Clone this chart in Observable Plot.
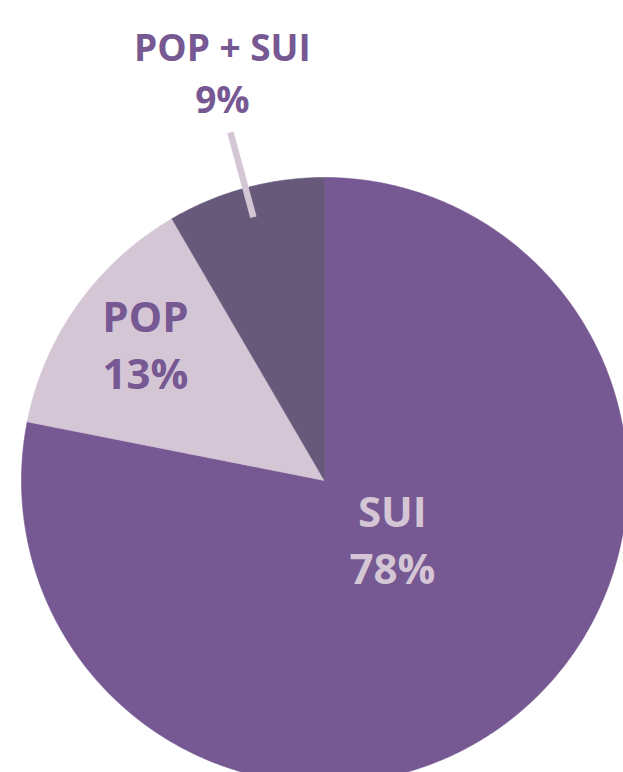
<!DOCTYPE html>
<html><head><meta charset="utf-8">
<script src="https://cdn.jsdelivr.net/npm/d3@7"></script>
<script src="https://cdn.jsdelivr.net/npm/@observablehq/plot@0.6"></script>
<style>html,body{margin:0;padding:0;background:#fff;overflow:hidden}#chart svg{display:block}</style>
</head><body><div id="chart"></div>
<script>
// ---- data ----
const categories = ["SUI", "POP", "POP + SUI"];
const shares = [78.1, 13.5, 8.4];            // slice sizes
const pctLabels = ["78%", "13%", "9%"];       // printed labels
// ---- style ----
const sliceColors = ["#765892", "#d5c6d6", "#67597a"];
const labelColors = ["#d5c6d6", "#765892", "#765892"];
// ---- label layout (unit-radius coordinates) ----
const labelX = [0.224, -0.591, -0.337];
const labelY = [-0.188, 0.455, 1.354];

const W = 623, H = 772, CX = 324, CY = 480, R = 303;

const arcs = d3.pie().sort(null).value(d => d)(shares);
const polar = (a, r) => [r * Math.sin(a), r * Math.cos(a)];

const slices = arcs.map((a, i) => {
  const pts = [[0, 0]];
  const n = Math.max(8, Math.ceil((a.endAngle - a.startAngle) / (Math.PI / 360)));
  for (let k = 0; k <= n; k++) pts.push(polar(a.startAngle + (a.endAngle - a.startAngle) * k / n, 1));
  pts.push([0, 0]);
  return {i, pts};
});

const labels = categories.map((c, i) => ({i, text: c + "\n" + pctLabels[i], x: labelX[i], y: labelY[i]}));
const mid3 = (arcs[2].startAngle + arcs[2].endAngle) / 2;
const leader = [{p1: polar(mid3, 0.90), p2: polar(mid3, 1.19)}];

const chart = Plot.plot({
  width: W, height: H,
  margin: 0,
  x: {domain: [-CX / R, (W - CX) / R], axis: null},
  y: {domain: [-(H - CY) / R, CY / R], axis: null},
  marks: [
    ...slices.map(s => Plot.line(s.pts, {x: d => d[0], y: d => d[1], fill: sliceColors[s.i], stroke: sliceColors[s.i], strokeWidth: 0.6})),
    Plot.link(leader, {x1: d => d.p1[0], y1: d => d.p1[1], x2: d => d.p2[0], y2: d => d.p2[1], stroke: "#d5c6d6", strokeWidth: 6.5, strokeLinecap: "butt"}),
    Plot.text(labels.filter(d => d.i < 2), {x: "x", y: "y", text: "text", fill: d => labelColors[d.i], fontSize: 42, fontWeight: 700, fontFamily: "Open Sans", lineHeight: 1.36, lineAnchor: "middle"}),
    Plot.text(labels.filter(d => d.i === 2), {x: "x", y: "y", text: "text", fill: d => labelColors[d.i], fontSize: 37, fontWeight: 700, fontFamily: "Open Sans", lineHeight: 1.4, lineAnchor: "middle"})
  ]
});
document.getElementById("chart").appendChild(chart);
</script>
</body></html>
